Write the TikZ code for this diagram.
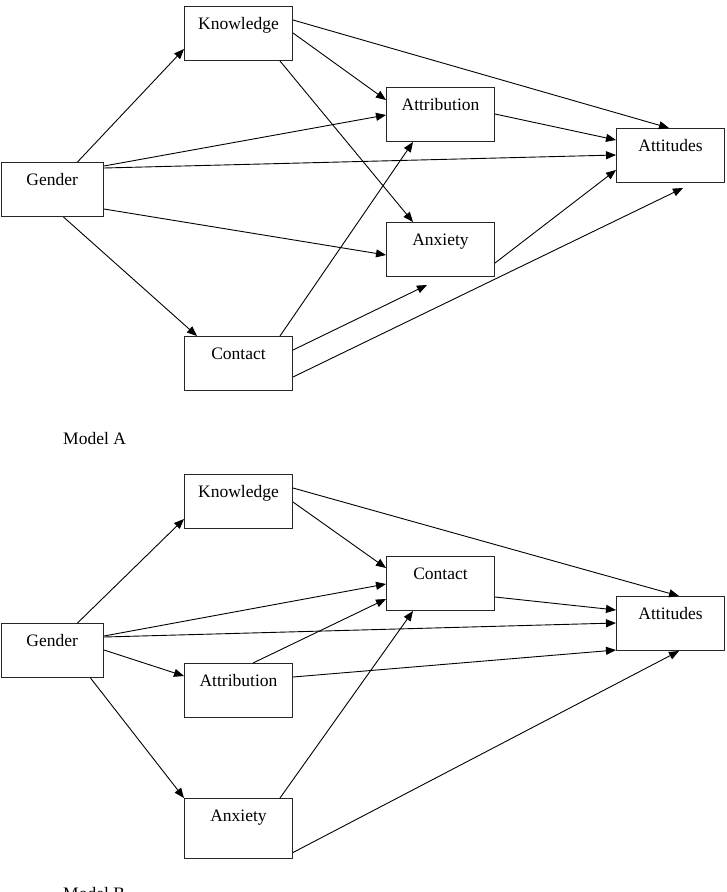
\documentclass[tikz,border=0pt]{standalone}
\usepackage{fontspec}
\setmainfont{Liberation Serif}
\usetikzlibrary{arrows.meta}
\begin{document}
\begin{tikzpicture}[x=1pt,y=-1pt,
  box/.style={draw=black!85, line width=1pt, rectangle, anchor=north west,
    minimum width=108pt, inner xsep=0pt, inner ysep=0pt,
    text height=23pt, text depth=31pt, font=\fontsize{17.5}{21}\selectfont},
  link/.style={line width=0.9pt, -{Triangle[length=10pt,width=8pt]}},
  lbl/.style={anchor=base west, inner sep=0pt, font=\fontsize{17.5}{21}\selectfont}]
\useasboundingbox (0,0) rectangle (727,892);

% ---------------- Model A ----------------
\node[box, minimum width=102.5pt] (gA) at (0.5,162) {Gender};
\node[box] (kA)  at (184,6)   {Knowledge};
\node[box] (atA) at (386,87)  {Attribution};
\node[box] (ttA) at (616,128) {Attitudes};
\node[box] (axA) at (386,222) {Anxiety};
\node[box] (cA)  at (184,336) {Contact};
\coordinate (fA1) at (427,285);
\coordinate (fA2) at (683,188);

\draw[link] ([xshift=77pt]gA.north west) -- ([yshift=12pt]kA.south west);
\draw[link] ([yshift=-14pt]kA.north east) -- ([xshift=53pt]ttA.north west);
\draw[link] ([yshift=-27pt]kA.north east) -- ([yshift=-13pt]atA.north west);
\draw[link] ([xshift=-13pt]kA.south east) -- ([xshift=27pt]axA.north west);
\draw[link] ([yshift=-4pt]gA.north east) -- ([yshift=-28pt]atA.north west);
\draw[link] ([yshift=-6pt]gA.north east) -- ([yshift=-27pt]ttA.north west);
\draw[link] ([yshift=8pt]gA.south east) -- ([yshift=-33pt]axA.north west);
\draw[link] ([xshift=63pt]gA.south west) -- ([xshift=13pt]cA.north west);
\draw[link] ([xshift=-13pt]cA.north east) -- ([xshift=27pt]atA.south west);
\draw[link] ([yshift=-14pt]cA.north east) -- (fA1);
\draw[link] ([yshift=14pt]cA.south east) -- (fA2);
\draw[link] ([yshift=14pt]axA.south east) -- ([yshift=13pt]ttA.south west);
\draw[link] ([yshift=-27pt]atA.north east) -- ([yshift=-12pt]ttA.north west);

\node[lbl] (mA) at (63,444) {Model A};

% ---------------- Model B ----------------
\node[box, minimum width=102.5pt] (gB) at (0.5,623) {Gender};
\node[box] (kB)  at (184,474) {Knowledge};
\node[box] (cB)  at (386,556) {Contact};
\node[box] (ttB) at (616,596) {Attitudes};
\node[box] (atB) at (184,663) {Attribution};
\node[box, text depth=36.5pt] (axB) at (184,798) {Anxiety};

\draw[link] ([xshift=77pt]gB.north west) -- ([yshift=10pt]kB.south west);
\draw[link] ([yshift=-14pt]kB.north east) -- ([xshift=63pt]ttB.north west);
\draw[link] ([yshift=-28pt]kB.north east) -- ([yshift=-12pt]cB.north west);
\draw[link] ([yshift=-13pt]gB.north east) -- ([yshift=-28pt]cB.north west);
\draw[link] ([yshift=-14pt]gB.north east) -- ([yshift=-27pt]ttB.north west);
\draw[link] ([xshift=69pt]atB.north west) -- ([yshift=12pt]cB.south west);
\draw[link] ([yshift=-27pt]gB.north east) -- ([yshift=-13pt]atB.north west);
\draw[link] ([yshift=-14pt]atB.north east) -- ([yshift=1pt]ttB.south west);
\draw[link] ([xshift=90pt]gB.south west) -- (axB.north west);
\draw[link] ([xshift=-13pt]axB.north east) -- ([xshift=27pt]cB.south west);
\draw[link] ([yshift=6pt]axB.south east) -- ([xshift=63pt]ttB.south west);
\draw[link] ([yshift=14pt]cB.south east) -- ([yshift=-14pt]ttB.north west);

\node[lbl] (mB) at (63,899) {Model B};
\end{tikzpicture}
\end{document}
